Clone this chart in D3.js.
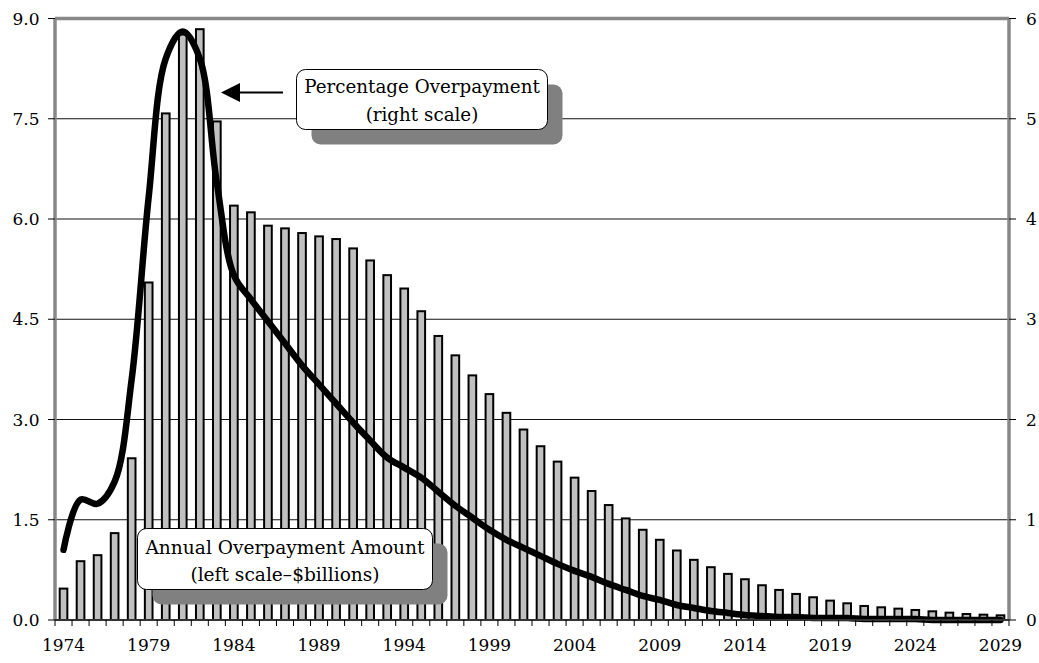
<!DOCTYPE html>
<html>
<head>
<meta charset="utf-8">
<script src="https://cdn.jsdelivr.net/npm/d3@7"></script>
<style>
  html, body { margin: 0; padding: 0; background: #fff; }
  svg { display: block; }
  text { font-family: "DejaVu Serif", serif; fill: #000; }
</style>
</head>
<body>
<svg id="chart" width="1039" height="663"></svg>
<script>
const years = d3.range(1974, 2030);
const amountBillions = [
  0.47, 0.88, 0.97, 1.30, 2.42, 5.05, 7.58, 8.76, 8.84, 7.46,
  6.20, 6.10, 5.90, 5.86, 5.79, 5.74, 5.70, 5.56, 5.38, 5.16,
  4.96, 4.62, 4.25, 3.96, 3.66, 3.38, 3.10, 2.85, 2.60, 2.37,
  2.13, 1.93, 1.72, 1.52, 1.35, 1.20, 1.04, 0.90, 0.79, 0.69,
  0.61, 0.52, 0.45, 0.39, 0.34, 0.29, 0.25, 0.21, 0.19, 0.17,
  0.15, 0.13, 0.11, 0.09, 0.08, 0.07
];
const percentOverpayment = [
  0.70, 1.20, 1.16, 1.38, 2.40, 4.22, 5.60, 5.87, 5.60, 4.36,
  3.44, 3.20, 2.98, 2.76, 2.54, 2.35, 2.16, 1.97, 1.79, 1.62,
  1.52, 1.42, 1.28, 1.14, 1.02, 0.90, 0.80, 0.72, 0.64, 0.56,
  0.49, 0.43, 0.36, 0.30, 0.24, 0.20, 0.15, 0.12, 0.09, 0.07,
  0.05, 0.04, 0.03, 0.03, 0.02, 0.02, 0.02, 0.01, 0.01, 0.01,
  0.01, 0.00, 0.00, 0.00, 0.00, 0.00
];
const leftTicks = [0, 1.5, 3.0, 4.5, 6.0, 7.5, 9.0];
const rightTicks = [0, 1, 2, 3, 4, 5, 6];
const yearLabels = [1974, 1979, 1984, 1989, 1994, 1999, 2004, 2009, 2014, 2019, 2024, 2029];
const boxPercentLines = ["Percentage Overpayment", "(right scale)"];
const boxAmountLines = ["Annual Overpayment Amount", "(left scale\u2013$billions)"];

const svg = d3.select("#chart");
const pL = 55, pR = 1009, pT = 18.5, pB = 620;

const x = d3.scaleBand().domain(years).range([pL, pR])
  .paddingInner(0.55).paddingOuter(0.275);
const yL = d3.scaleLinear().domain([0, 9]).range([pB, pT]);
const yR = d3.scaleLinear().domain([0, 6]).range([pB, pT]);

// gridlines
svg.append("g").selectAll("line")
  .data(leftTicks.filter(d => d > 0 && d < 9))
  .join("line")
  .attr("x1", pL).attr("x2", pR)
  .attr("y1", d => yL(d)).attr("y2", d => yL(d))
  .attr("stroke", "#111").attr("stroke-width", 1.2);

// bars
svg.append("g").selectAll("rect")
  .data(years.map((yr, i) => ({ yr, v: amountBillions[i] })))
  .join("rect")
  .attr("x", d => x(d.yr))
  .attr("width", x.bandwidth())
  .attr("y", d => yL(d.v))
  .attr("height", d => yL(0) - yL(d.v))
  .attr("fill", "#c0c0c0")
  .attr("stroke", "#000")
  .attr("stroke-width", 2);

// frame: top, left, right gray
svg.append("line").attr("x1", pL).attr("x2", pR).attr("y1", pT).attr("y2", pT)
  .attr("stroke", "#888").attr("stroke-width", 3.5);
svg.append("line").attr("x1", pL).attr("x2", pL).attr("y1", pT).attr("y2", pB)
  .attr("stroke", "#888").attr("stroke-width", 3.5);
svg.append("line").attr("x1", pR).attr("x2", pR).attr("y1", pT).attr("y2", pB)
  .attr("stroke", "#888").attr("stroke-width", 3.5);

// line series
const line = d3.line()
  .x((d, i) => x(years[i]) + x.bandwidth() / 2)
  .y(d => yR(d))
  .curve(d3.curveCatmullRom.alpha(0.5));
svg.append("path")
  .datum(percentOverpayment)
  .attr("d", line)
  .attr("fill", "none")
  .attr("stroke", "#000")
  .attr("stroke-width", 6.5)
  .attr("stroke-linejoin", "round")
  .attr("stroke-linecap", "round");

// bottom axis line and category ticks
svg.append("line").attr("x1", pL).attr("x2", pR).attr("y1", pB).attr("y2", pB)
  .attr("stroke", "#333").attr("stroke-width", 2);
const bounds = years.map(yr => x(yr) - x.step() * 0.275).concat([pR]);
svg.append("g").selectAll("line").data(bounds).join("line")
  .attr("x1", d => d).attr("x2", d => d)
  .attr("y1", pB).attr("y2", pB + 6)
  .attr("stroke", "#000").attr("stroke-width", 1);

// left axis ticks & labels
const gl = svg.append("g");
gl.selectAll("line").data(leftTicks).join("line")
  .attr("x1", pL - 7).attr("x2", pL)
  .attr("y1", d => yL(d)).attr("y2", d => yL(d))
  .attr("stroke", "#000").attr("stroke-width", 1);
gl.selectAll("text").data(leftTicks).join("text")
  .attr("x", 39.5).attr("y", d => yL(d)).attr("dy", "0.36em")
  .attr("text-anchor", "end").attr("font-size", 17)
  .text(d => d.toFixed(1));

// right axis ticks & labels
const gr = svg.append("g");
gr.selectAll("line").data(rightTicks).join("line")
  .attr("x1", pR).attr("x2", pR + 7)
  .attr("y1", d => yR(d)).attr("y2", d => yR(d))
  .attr("stroke", "#000").attr("stroke-width", 1);
gr.selectAll("text").data(rightTicks).join("text")
  .attr("x", 1026).attr("y", d => yR(d)).attr("dy", "0.36em")
  .attr("text-anchor", "start").attr("font-size", 17)
  .text(d => d);

// year labels
svg.append("g").selectAll("text").data(yearLabels).join("text")
  .attr("x", d => x(d) + x.bandwidth() / 2)
  .attr("y", 651)
  .attr("text-anchor", "middle").attr("font-size", 17)
  .text(d => d);

// annotation boxes
function annBox(bx, by, bw, bh, lines, baselines, fs) {
  const g = svg.append("g");
  g.append("rect").attr("x", bx + 15).attr("y", by + 15).attr("width", bw).attr("height", bh)
    .attr("rx", 9).attr("fill", "#808080");
  g.append("rect").attr("x", bx).attr("y", by).attr("width", bw).attr("height", bh)
    .attr("rx", 9).attr("fill", "#fff").attr("stroke", "#000").attr("stroke-width", 1);
  g.selectAll("text").data(lines).join("text")
    .attr("x", bx + bw / 2).attr("y", (d, i) => baselines[i])
    .attr("text-anchor", "middle").attr("font-size", fs)
    .text(d => d);
}
annBox(296.5, 69.5, 251, 60, boxPercentLines, [93, 121], 18.3);
annBox(137.5, 528.5, 295, 61, boxAmountLines, [554, 581], 18.6);

// arrow
svg.append("line").attr("x1", 238).attr("x2", 283).attr("y1", 92.5).attr("y2", 92.5)
  .attr("stroke", "#000").attr("stroke-width", 2);
svg.append("path").attr("d", "M221,92.5 L240,83 L240,102 Z").attr("fill", "#000");
</script>
</body>
</html>
